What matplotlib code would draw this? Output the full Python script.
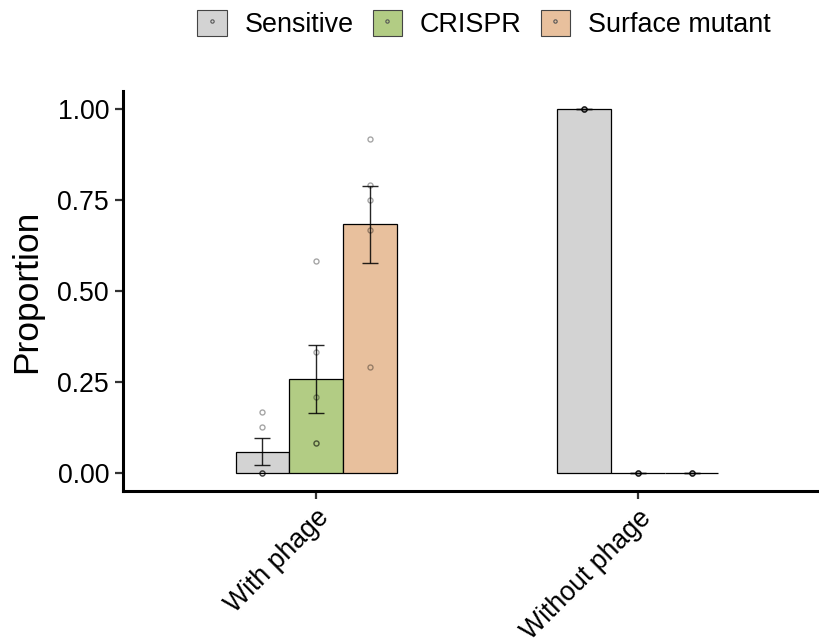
import numpy as np
import matplotlib.pyplot as plt
from matplotlib.patches import Patch
from matplotlib.lines import Line2D

plt.rcParams['font.family'] = ['Liberation Sans', 'DejaVu Sans']

# data
treatments = ["With phage", "Without phage"]
genotypes = ["Sensitive", "CRISPR", "Surface mutant"]
colours = ["#D3D3D3", "#B2CC84", "#E8C09D"]

with_phage = {
    "Sensitive": [0.0, 0.0, 0.0, 0.125, 0.167],
    "CRISPR": [0.583, 0.333, 0.208, 0.083, 0.083],
    "Surface mutant": [0.917, 0.792, 0.75, 0.667, 0.292],
}
without_phage = {
    "Sensitive": [1.0, 1.0, 1.0, 1.0, 1.0],
    "CRISPR": [0.0, 0.0, 0.0, 0.0, 0.0],
    "Surface mutant": [0.0, 0.0, 0.0, 0.0, 0.0],
}
replicates = [with_phage, without_phage]

fig = plt.figure(figsize=(8.2, 6.44), dpi=100)
ax = fig.add_axes([123 / 820, 1 - 491 / 644, 708 / 820, 400 / 644])

group_width = 0.5
bar_w = group_width / len(genotypes)
xs = np.arange(len(treatments)) + 1

for gi, (geno, col) in enumerate(zip(genotypes, colours)):
    offset = -group_width / 2 + bar_w * (gi + 0.5)
    for ti, reps in enumerate(replicates):
        vals = np.array(reps[geno])
        m = vals.mean()
        se = vals.std(ddof=1) / np.sqrt(len(vals))
        x = xs[ti] + offset
        ax.bar(x, m, width=bar_w, color=col, edgecolor="black", linewidth=0.9, zorder=2)
        ax.errorbar(x, m, yerr=se, fmt="none", ecolor="black", elinewidth=1.0,
                    capsize=5.5, capthick=1.0, alpha=0.85, zorder=3)
        ax.plot(np.full(len(vals), x), vals, "o", ms=3.6, mfc="none", mec="black",
                mew=1.0, alpha=0.35, ls="", zorder=4)

ax.set_xlim(0.4, 2.6)
ax.set_ylim(-0.05, 1.05)
ax.set_xticks(xs)
ax.set_xticklabels(treatments, rotation=45, ha="right", rotation_mode="anchor")
ax.set_yticks([0, 0.25, 0.5, 0.75, 1.0])
ax.set_yticklabels(["0.00", "0.25", "0.50", "0.75", "1.00"])
ax.tick_params(axis="both", labelsize=19.2, colors="#333333", labelcolor="black",
               length=6, width=1.6, pad=4)
ax.set_ylabel("Proportion", fontsize=25.5, labelpad=10)

for s in ["top", "right"]:
    ax.spines[s].set_visible(False)
for s in ["left", "bottom"]:
    ax.spines[s].set_linewidth(2.2)
    ax.spines[s].set_color("black")

handles = [
    (Patch(facecolor=c, edgecolor="#444444", linewidth=0.8),
     Line2D([], [], marker="o", ms=2.4, mfc="none", mec="#555555", mew=0.8, ls=""))
    for c in colours
]
fig.legend(handles, genotypes, loc="center", bbox_to_anchor=(484 / 820, 1 - 24 / 644),
           ncol=3, frameon=False, fontsize=19.4, handlelength=1.08, handleheight=1.08,
           handletextpad=0.66, columnspacing=0.72, borderaxespad=0)

fig.savefig("out.png", dpi=100)
